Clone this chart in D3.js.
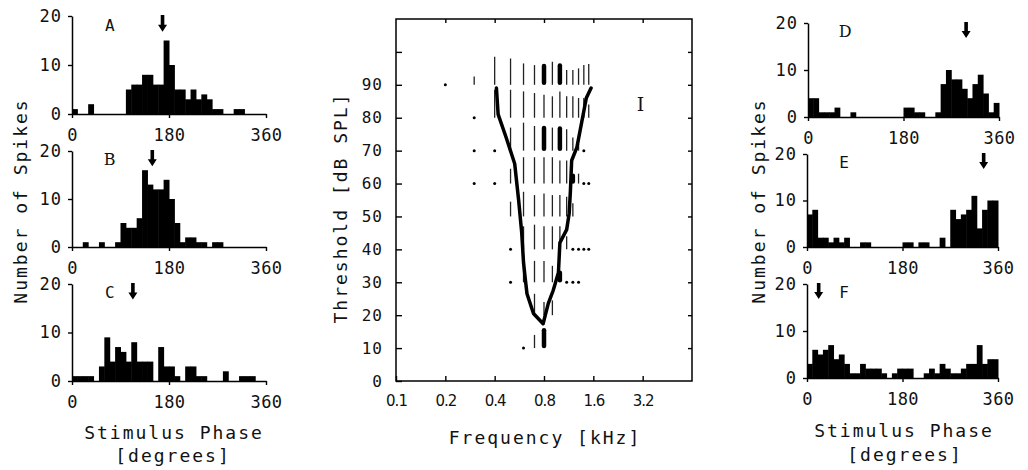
<!DOCTYPE html>
<html><head><meta charset="utf-8">
<script src="https://cdn.jsdelivr.net/npm/d3@7/dist/d3.min.js"></script>
<style>
body{margin:0;background:#fff;}
svg{display:block;background:#fff;}
</style></head><body>
<svg id="c" width="1028" height="470"></svg>
<script>
// ---------------- data ----------------
const phaseTicks = [0, 180, 360];
const countTicks = [0, 10, 20];
const binWidthDeg = 10;
const panelNames = ["A", "B", "C", "D", "E", "F"];
const arrowPhases = [168, 149, 113, 298, 333, 22];
const histA = [1,0,0,2,0,0,0,0,0,0,5,6,6,8,8,6,6,15,10,5,5,3,5,3,4,3,1,1,0,0,1,1,0,0,0,0];
const histB = [0,0,1,0,0,1,0,0,1,5,4,4,6,16,13,12,12,14,10,5,1,2,2,1,1,0,1,1,0,0,0,0,0,0,0,0];
const histC = [1,1,1,1,0,3,9,4,7,6,4,8,4,4,4,0,7,3,3,1,0,3,3,1,1,0,0,0,2,0,0,1,1,1,0,0];
const histD = [4,4,1,1,1,2,0,0,1,0,0,0,0,0,0,0,0,0,2,2,1,1,0,0,1,7,10,8,8,6,4,7,9,5,1,3];
const histE = [7,8,2,2,1,2,1,2,0,0,1,1,0,0,0,0,0,0,1,1,0,1,1,0,0,2,0,8,6,7,8,11,4,8,10,10];
const histF = [3,6,5,6,7,4,5,3,1,1,3,2,2,2,1,0,1,2,2,2,0,0,1,2,1,3,2,1,1,2,3,3,7,3,4,4];

const freqTicks = [0.1, 0.2, 0.4, 0.8, 1.6, 3.2];
const levelTicks = [0,10,20,30,40,50,60,70,80,90,100];
const rasterFreqs = [0.2,0.3,0.4,0.5,0.6,0.7,0.8,0.9,1.0,1.1,1.2,1.3,1.4,1.5];
const rasterLevels = [90,80,70,60,50,40,30,20,10];
// per level row, per frequency: null = not tested, 0 = no response (dot), >0 = response bar length (dB)
const rasterLen = [
  [0, 2.5, 8.5, 8, 6.5, 6, 6.3, 7, 6.5, 4.5, 4.5, 5, 6, 6.3],
  [null, 0, 8.5, 8.5, 8, 7.5, 7, 6.5, 8, 6.5, 6.5, 6, 6, 4],
  [null, 0, 0, 7, 8.5, 7.5, 7.5, 7, 7.3, 6.5, 4, 2, 0, null],
  [null, 0, 0, 4.5, 8, 8, 8, 8, 7, 7, 3, 3, 0, 0],
  [null, null, null, 4.5, 7.5, 6.5, 7, 6.5, 6.5, 6, 4, null, null, null],
  [null, null, null, 0, 7, 7.5, 7, 7, 7, 4, 0, 0, 0, 0],
  [null, null, null, 0, 8, 6.5, 6.5, 5, 3.5, 0, 0, 0, null, null],
  [null, null, null, null, null, 6.5, 4, 4.5, null, null, null, null, null, null],
  [null, null, null, null, 0, 4, 6, null, null, null, null, null, null, null]
];
const thickFreqs  = [0.8, 1.0, 0.8, 1.0, 1.2, 1.0, 0.8];
const thickLevels = [90,  90,  70,  70,  60,  30,  10];
const tuningFreq  = [0.41,0.42,0.47,0.53,0.56,0.585,0.60,0.615,0.63,0.69,0.79,0.85,0.91,0.98,1.0,1.1,1.14,1.16,1.18,1.27,1.45,1.55];
const tuningLevel = [89,  81,  74,  66,  55,  45,   36,  31,   26.5,20.5,17.4,23.6,27.5,33, 42, 46, 51, 58, 67, 71, 86, 89];

// ---------------- drawing ----------------
const svg = d3.select("#c");
svg.append("rect").attr("width",1028).attr("height",470).attr("fill","#fff");
const MONO = "'DejaVu Sans Mono', monospace";
const INK = "#111";

const hists = [histA, histB, histC, histD, histE, histF];
const layout = [
  {x0:72,  x1:266, y0:114, y20:16},
  {x0:72,  x1:266, y0:247, y20:151},
  {x0:72,  x1:266, y0:381, y20:284},
  {x0:808, x1:999, y0:117, y20:23},
  {x0:807, x1:998, y0:247, y20:154},
  {x0:807, x1:998, y0:378, y20:284}
];

function styleAxis(g, size, ls){
  g.selectAll("path.domain").attr("stroke","#000").attr("stroke-width",1.5);
  g.selectAll(".tick line").attr("stroke","#000").attr("stroke-width",1.4);
  g.selectAll(".tick text").attr("fill",INK).attr("font-family",MONO)
   .attr("font-size",size).attr("letter-spacing",ls);
}

hists.forEach((data, k) => {
  const L = layout[k];
  const x = d3.scaleLinear().domain([0,360]).range([L.x0, L.x1]);
  const y = d3.scaleLinear().domain([0,20]).range([L.y0, L.y20]);
  const g = svg.append("g");
  const bw = x(binWidthDeg) - x(0);
  g.selectAll("rect.bar")
    .data(data.map((v,i) => ({v, i})).filter(d => d.v > 0))
    .enter().append("rect").attr("class","bar")
    .attr("x", d => x(d.i * binWidthDeg)).attr("width", bw + 0.5)
    .attr("y", d => y(d.v)).attr("height", d => y(0) - y(d.v)).attr("fill","#000");
  const ya = g.append("g").attr("transform",`translate(${L.x0},0)`)
    .call(d3.axisLeft(y).tickValues(countTicks).tickSize(4).tickSizeOuter(0).tickPadding(6));
  styleAxis(ya, 17, 1);
  const xa = g.append("g").attr("transform",`translate(0,${L.y0})`)
    .call(d3.axisBottom(x).tickValues(phaseTicks).tickSize(4).tickSizeOuter(0).tickPadding(11));
  styleAxis(xa, 17, 0.5);
  // panel letter
  const serif = (panelNames[k] === "B" || panelNames[k] === "D");
  g.append("text").text(panelNames[k])
    .attr("x", x(70)).attr("y", y(18.2)).attr("dy","0.36em")
    .attr("text-anchor","middle").attr("fill",INK)
    .attr("font-family", serif ? "'DejaVu Serif', serif" : MONO)
    .attr("font-size",16);
  // arrow
  const ax = x(arrowPhases[k]), top = y(20.2), bot = y(16.8), hy = bot - 7;
  g.append("path").attr("fill","#000")
    .attr("d",`M${ax-1.8},${top}L${ax+1.8},${top}L${ax+1.8},${hy}L${ax+4.5},${hy}L${ax},${bot}L${ax-4.5},${hy}L${ax-1.8},${hy}Z`);
});

// axis titles
function title(txt, x, y, rot){
  const t = svg.append("text").text(txt).attr("fill",INK).attr("font-family",MONO)
    .attr("font-size",18).attr("letter-spacing",2).attr("text-anchor","middle");
  if (rot) t.attr("transform",`translate(${x},${y}) rotate(-90)`);
  else t.attr("x",x).attr("y",y);
  return t;
}
title("Number of Spikes", 27, 201, true);
title("Number of Spikes", 765, 201, true);
title("Stimulus Phase", 174, 439);
title("[degrees]", 173, 462);
title("Stimulus Phase", 904, 437);
title("[degrees]", 905, 461);

// ---------------- center tuning panel ----------------
const xf = d3.scaleLog().base(2).domain([0.1, 6.4]).range([396, 692]);
const yl = d3.scaleLinear().domain([0, 110]).range([381, 19]);
const cg = svg.append("g");
cg.append("rect").attr("x",xf(0.1)).attr("y",yl(110)).attr("width",xf(6.4)-xf(0.1))
  .attr("height",yl(0)-yl(110)).attr("fill","none").attr("stroke","#000").attr("stroke-width",1.5);

const la = cg.append("g").attr("transform",`translate(${xf(0.1)},0)`)
  .call(d3.axisLeft(yl).tickValues(levelTicks).tickSize(-6).tickPadding(13)
    .tickFormat(d => d === 100 ? "" : d));
styleAxis(la, 16, 1);
la.select("path.domain").remove();
const ra = cg.append("g").attr("transform",`translate(${xf(6.4)},0)`)
  .call(d3.axisRight(yl).tickValues(levelTicks.slice(1)).tickSize(-4).tickFormat(""));
styleAxis(ra, 16, 0); ra.select("path.domain").remove();
const ba = cg.append("g").attr("transform",`translate(0,${yl(0)})`)
  .call(d3.axisBottom(xf).tickValues(freqTicks).tickSize(-5).tickPadding(14).tickFormat(d => String(d)));
styleAxis(ba, 15, -1);
ba.selectAll(".tick text").attr("font-family","'DejaVu Sans', sans-serif");
ba.select("path.domain").remove();
const ta = cg.append("g").attr("transform",`translate(0,${yl(110)})`)
  .call(d3.axisTop(xf).tickValues(freqTicks.slice(1)).tickSize(-4).tickFormat(""));
styleAxis(ta, 15, 0); ta.select("path.domain").remove();

// raster
const thickSet = new Set(thickFreqs.map((f,i) => f + "_" + thickLevels[i]));
rasterLevels.forEach((lev, i) => {
  rasterFreqs.forEach((f, j) => {
    const v = rasterLen[i][j];
    if (v === null) return;
    if (v === 0) {
      cg.append("circle").attr("cx", xf(f)).attr("cy", yl(lev)).attr("r", 1.5).attr("fill","#000");
    } else if (thickSet.has(f + "_" + lev)) {
      cg.append("line").attr("x1", xf(f)).attr("x2", xf(f))
        .attr("y1", yl(lev) - 2).attr("y2", yl(lev + v) + 2)
        .attr("stroke","#000").attr("stroke-width",4.5).attr("stroke-linecap","round");
    } else {
      cg.append("line").attr("x1", xf(f)).attr("x2", xf(f))
        .attr("y1", yl(lev)).attr("y2", yl(lev + v))
        .attr("stroke","#222").attr("stroke-width",1.3);
    }
  });
});

// tuning curve
const pts = tuningFreq.map((f,i) => [f, tuningLevel[i]]);
cg.append("path").datum(pts)
  .attr("d", d3.line().x(d => xf(d[0])).y(d => yl(d[1])))
  .attr("fill","none").attr("stroke","#000").attr("stroke-width",3.5)
  .attr("stroke-linejoin","round").attr("stroke-linecap","round");

cg.append("text").text("I").attr("x", xf(3.1)).attr("y", yl(84)).attr("dy","0.36em")
  .attr("text-anchor","middle").attr("fill",INK)
  .attr("font-family","'DejaVu Serif', serif").attr("font-size",19);

title("Frequency [kHz]", 545, 444);
title("Threshold [dB SPL]", 347, 208, true);
</script>
</body></html>
